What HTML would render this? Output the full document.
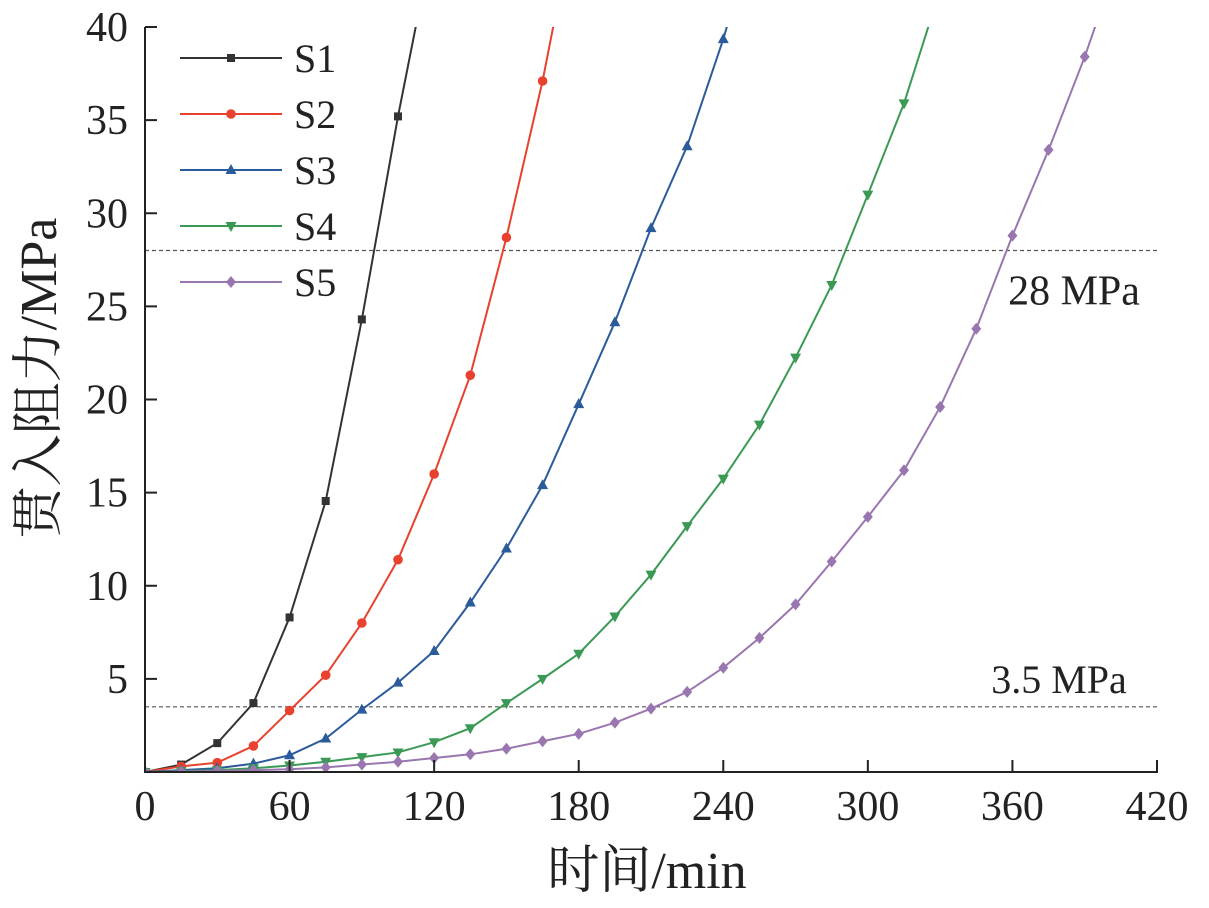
<!DOCTYPE html>
<html><head><meta charset="utf-8"><style>
html,body{margin:0;padding:0;background:#fff;}
svg{display:block;font-family:"Liberation Serif","Noto Serif CJK SC",serif;}
</style></head><body>
<svg id="chart" width="1209" height="908" viewBox="0 0 1209 908">
<defs><clipPath id="plot"><rect x="145" y="27" width="1012" height="746"/></clipPath></defs>
<g id="grid"></g>
<g id="series" clip-path="url(#plot)"></g>
<g id="axes"></g>
<g id="legend"></g>
</svg>
<script>
const times = [0,15,30,45,60,75,90,105,120,135,150,165,180,195,210,225,240,255,270,285,300,315,330,345,360,375,390,405];
const s1 = [0,0.4,1.55,3.7,8.3,14.55,24.3,35.2,45];
const s2 = [0,0.3,0.5,1.4,3.3,5.2,8.0,11.4,16.0,21.3,28.7,37.1,47];
const s3 = [0,0.1,0.2,0.45,0.9,1.8,3.35,4.8,6.5,9.1,12.0,15.4,19.75,24.15,29.2,33.6,39.35,46];
const s4 = [0,0.05,0.1,0.2,0.35,0.55,0.8,1.05,1.6,2.35,3.7,5.0,6.35,8.35,10.6,13.2,15.75,18.65,22.25,26.15,31.0,35.9,42];
const s5 = [0,0.03,0.06,0.1,0.15,0.25,0.4,0.55,0.75,0.95,1.25,1.65,2.05,2.65,3.4,4.3,5.6,7.2,9.0,11.3,13.7,16.2,19.6,23.8,28.8,33.4,38.4,44];
const seriesNames = ["S1","S2","S3","S4","S5"];
const seriesData = [s1,s2,s3,s4,s5];
const colors = ["#333333","#e8412e","#2b5b9a","#3a9a55","#9a76b0"];
const markers = ["square","circle","triangle","down","diamond"];
const xTicks = [0,60,120,180,240,300,360,420];
const yTicks = [5,10,15,20,25,30,35,40];
const refLines = [28,3.5];
const refLabels = ["28 MPa","3.5 MPa"];

const NS="http://www.w3.org/2000/svg";
const x = t => 145 + t*(1157-145)/420;
const y = v => 772 - v*(772-27)/40;
function mk(tag, attrs, parent){const e=document.createElementNS(NS,tag);for(const k in attrs)e.setAttribute(k,attrs[k]);parent.appendChild(e);return e;}
const grid=document.getElementById('grid'),ser=document.getElementById('series'),axes=document.getElementById('axes'),leg=document.getElementById('legend');

function marker(type,cx,cy,color,parent){
  let e;
  if(type==="square") e=mk('rect',{x:cx-4,y:cy-4,width:8,height:8,fill:color},parent);
  else if(type==="circle") e=mk('circle',{cx:cx,cy:cy,r:4.8,fill:color},parent);
  else if(type==="triangle") e=mk('polygon',{points:`${cx},${cy-6} ${cx-5.5},${cy+4} ${cx+5.5},${cy+4}`,fill:color},parent);
  else if(type==="down") e=mk('polygon',{points:`${cx},${cy+6} ${cx-5.5},${cy-4} ${cx+5.5},${cy-4}`,fill:color},parent);
  else e=mk('polygon',{points:`${cx},${cy-6} ${cx+5},${cy} ${cx},${cy+6} ${cx-5},${cy}`,fill:color},parent);
  return e;
}

refLines.forEach((v,i)=>{
  const l=mk('line',{x1:145,x2:1157,y1:y(v),y2:y(v),stroke:'#555','stroke-width':1.2,'stroke-dasharray':'4,3'},grid);
  
  
});
const t1=mk('text',{x:1074,y:y(28)+54,'font-size':42,'text-anchor':'middle',fill:'#222'},grid);t1.textContent=refLabels[0];


const t2=mk('text',{x:1059,y:y(3.5)-14,'font-size':40,'text-anchor':'middle',fill:'#222'},grid);t2.textContent=refLabels[1];



seriesData.forEach((d,si)=>{
  const g=mk('g',{},ser);
  
  
  const pts=d.map((v,i)=>x(times[i])+','+y(v)).join(' ');
  mk('polyline',{points:pts,fill:'none',stroke:colors[si],'stroke-width':2},g);
  d.forEach((v,i)=>{const m=marker(markers[si],x(times[i]),y(v),colors[si],g);
    
    });
});

mk('line',{x1:145,x2:145,y1:27,y2:773,stroke:'#222','stroke-width':2},axes);
mk('line',{x1:144,x2:1158,y1:772,y2:772,stroke:'#222','stroke-width':2},axes);
xTicks.forEach(t=>{
  mk('line',{x1:x(t),x2:x(t),y1:772,y2:760,stroke:'#222','stroke-width':2},axes);
  const tx=mk('text',{x:x(t),y:820,'font-size':42,'text-anchor':'middle',fill:'#222'},axes);tx.textContent=t;
  
  
});
yTicks.forEach(v=>{
  mk('line',{x1:145,x2:157,y1:y(v),y2:y(v),stroke:'#222','stroke-width':2},axes);
  const tx=mk('text',{x:128,y:y(v)+14,'font-size':42,'text-anchor':'end',fill:'#222'},axes);tx.textContent=v;
  
  
});
const xt=mk('text',{x:647,y:888,'font-size':52,'text-anchor':'middle',fill:'#222'},axes);xt.textContent='时间/min';


const yt=mk('text',{x:0,y:0,'font-size':52,'text-anchor':'middle',fill:'#222',transform:'translate(56,378) rotate(-90)'},axes);yt.textContent='贯入阻力/MPa';



seriesNames.forEach((n,i)=>{
  const g=mk('g',{},leg);
  
  
  const yy=58+i*56;
  mk('line',{x1:180,x2:282,y1:yy,y2:yy,stroke:colors[i],'stroke-width':2},g);
  marker(markers[i],231,yy,colors[i],g);
  const t=mk('text',{x:294,y:yy+14,'font-size':40,fill:'#222'},g);t.textContent=n;
});
</script>
</body></html>
